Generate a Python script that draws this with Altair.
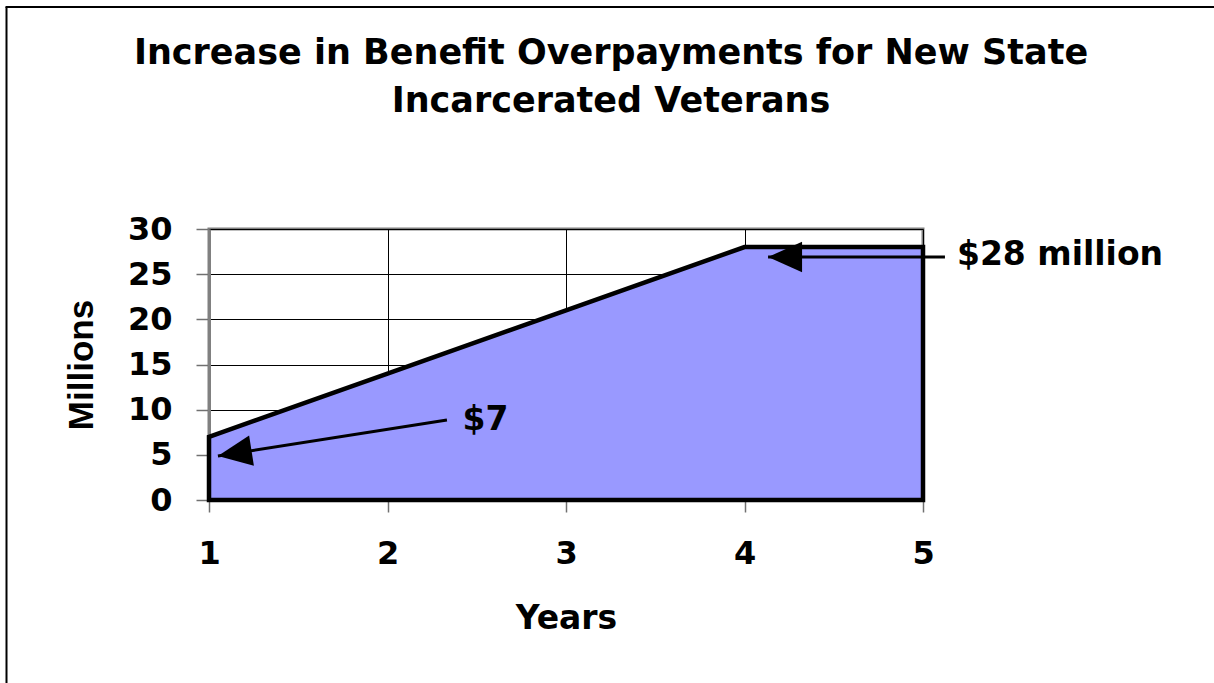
import altair as alt
import pandas as pd

# ---- data ----
years = [1, 2, 3, 4, 5]
millions = [7, 14, 21, 28, 28]

x_ticks = [1, 2, 3, 4, 5]
y_ticks = [0, 5, 10, 15, 20, 25, 30]

title_lines = ["Increase in Benefit Overpayments for New State", "Incarcerated Veterans"]
x_title = "Years"
y_title = "Millions"

label_text = ["$7", "$28 million"]
label_x = [2.42, 5.19]
label_y = [7.75, 26.0]

arrow_tail_x = [2.333, 5.123]
arrow_tail_y = [8.86, 26.9]
arrow_tip_x = [1.05, 4.132]
arrow_tip_y = [4.87, 26.9]
arrow_angle = [351, 0]

df = pd.DataFrame({"year": years, "value": millions})
df_lab = pd.DataFrame({"x": label_x, "y": label_y, "t": label_text})
df_arr = pd.DataFrame({"x": arrow_tail_x, "y": arrow_tail_y,
                       "x2": arrow_tip_x, "y2": arrow_tip_y, "a": arrow_angle})
df_one = pd.DataFrame({"k": [0]})

FONT = "DejaVu Sans"

xscale = alt.Scale(domain=[1, 5], nice=False, zero=False)
yscale = alt.Scale(domain=[0, 30], nice=False)

x_axis = alt.Axis(values=x_ticks, format="d", grid=True, gridColor="black", gridWidth=1,
                  domain=False, tickColor="#707070", tickSize=12, tickWidth=1.5,
                  labelFont=FONT, labelFontWeight="bold", labelFontSize=32,
                  labelColor="black", labelPadding=26, labelAngle=0, labelFlush=False,
                  title=x_title, titleFont=FONT, titleFontSize=33,
                  titleFontWeight="bold", titleColor="black", titlePadding=33)
y_axis = alt.Axis(values=y_ticks, format="d", grid=True, gridColor="black", gridWidth=1,
                  domainColor="#808080", domainWidth=3,
                  tickColor="#707070", tickSize=13, tickWidth=1.5,
                  labelFont=FONT, labelFontWeight="bold", labelFontSize=32,
                  labelColor="black", labelPadding=24, labelFlush=False,
                  title=y_title, titleFont="Liberation Sans", titleFontSize=35,
                  titleFontWeight="bold", titleColor="black", titlePadding=28)

area = alt.Chart(df).mark_area(color="#9999FF", opacity=1, stroke="black",
                               strokeWidth=4.5, strokeJoin="miter").encode(
    x=alt.X("year:Q", scale=xscale, axis=x_axis),
    y=alt.Y("value:Q", scale=yscale, axis=y_axis),
)

arrow_lines = alt.Chart(df_arr).mark_rule(color="black", strokeWidth=3).encode(
    x=alt.X("x:Q", scale=xscale), y=alt.Y("y:Q", scale=yscale),
    x2="x2:Q", y2="y2:Q",
)

arrow_heads = alt.Chart(df_arr).mark_point(
    shape="M 0 0 L 2 -0.9 L 2 0.9 Z", filled=True, size=1156,
    color="black", opacity=1, strokeWidth=0,
).encode(
    x=alt.X("x2:Q", scale=xscale), y=alt.Y("y2:Q", scale=yscale),
    angle=alt.Angle("a:Q", scale=None),
)

labels = alt.Chart(df_lab).mark_text(
    font=FONT, fontSize=33, fontWeight="bold", color="black",
    align="left", baseline="alphabetic",
).encode(
    x=alt.X("x:Q", scale=xscale), y=alt.Y("y:Q", scale=yscale), text="t:N",
)

title = alt.Chart(df_one).mark_text(
    text=title_lines, font=FONT, fontSize=35, fontWeight="bold", color="black",
    align="center", baseline="alphabetic", lineHeight=48,
).encode(x=alt.value(402), y=alt.value(-165))

frame_left = alt.Chart(df_one).mark_rule(color="black", strokeWidth=2).encode(
    x=alt.value(-202.5), y=alt.value(-222), y2=alt.value(460))
frame_top = alt.Chart(df_one).mark_rule(color="black", strokeWidth=2).encode(
    x=alt.value(-203.5), x2=alt.value(1010), y=alt.value(-222))

chart = alt.layer(area, arrow_lines, arrow_heads, labels, title, frame_left, frame_top).properties(
    width=714, height=271,
    padding={"left": 209, "top": 229, "right": 291, "bottom": 183},
    autosize=alt.AutoSizeParams(type="none"),
    background="white",
).configure_view(stroke="#808080", strokeWidth=3)

chart.save("out.html", embed_options={"renderer": "svg", "actions": False})
